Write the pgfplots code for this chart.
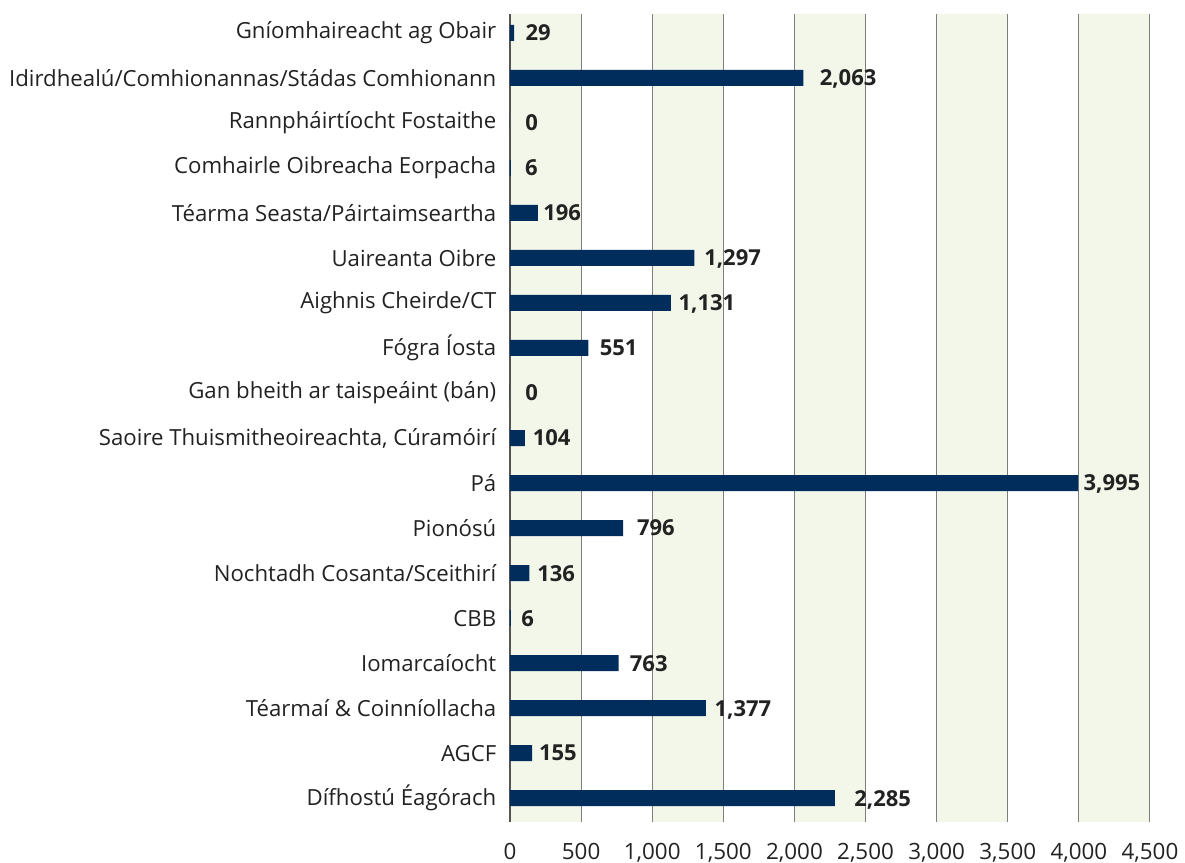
\documentclass[border=0pt]{standalone}
\usepackage{pgfplots}
\pgfplotsset{compat=1.18}
\usepackage{pgfplotstable}
\usepackage{fontspec}
\setmainfont{Open Sans}
\definecolor{barblue}{RGB}{0,45,92}
\definecolor{band}{RGB}{243,247,233}
\definecolor{gridgray}{RGB}{125,125,125}
\definecolor{txt}{RGB}{34,34,34}
\pgfplotstableread{
y x s
17 29 5.5
16 2063 8
15 0 7.5
14 6 7
13 196 2.5
12 1297 4.7
11 1131 3.7
10 551 5.5
9 0 7.5
8 104 3.8
7 3995 2.5
6 796 6.7
5 136 3.8
4 6 5
3 763 5.5
2 1377 4.2
1 155 3.3
0 2285 9.5
}\data
\begin{document}
\fontsize{11pt}{13pt}\selectfont
\begin{tikzpicture}
\begin{axis}[
  set layers,
  scale only axis,
  width=320pt, height=404pt,
  xmin=0, xmax=4500,
  ymin=-0.53, ymax=17.42,
  axis y line*=left,
  axis x line*=bottom,
  x axis line style={draw=none},
  y axis line style={draw={rgb,255:red,85;green,85;blue,85}, line width=0.6pt},
  xtick={0,500,...,4500},
  ytick={0,...,17},
  major tick length=0pt,
  xmajorgrids,
  major grid style={draw=gridgray, line width=0.5pt},
  /pgf/number format/assume math mode=true,
  /pgf/number format/1000 sep={,},
  xticklabel style={font=\fontsize{11.2pt}{13pt}\selectfont, text=txt, inner sep=0pt, yshift=-10.5pt},
  yticklabel style={font=\fontsize{11.1pt}{13pt}\selectfont, text=txt, xshift=-3pt},
  yticklabels={Dífhostú Éagórach, AGCF, Téarmaí \& Coinníollacha, Iomarcaíocht, CBB, Nochtadh Cosanta/Sceithirí, Pionósú, Pá, {Saoire Thuismitheoireachta, Cúramóirí}, Gan bheith ar taispeáint (bán), Fógra Íosta, Aighnis Cheirde/CT, Uaireanta Oibre, Téarma Seasta/Páirtaimseartha, Comhairle Oibreacha Eorpacha, Rannpháirtíocht Fostaithe, Idirdhealú/Comhionannas/Stádas Comhionann, Gníomhaireacht ag Obair},
]
\addplot[fill=band, draw=none, on layer=axis background] coordinates {(0,-0.53) (500,-0.53) (500,17.42) (0,17.42)} --cycle;
\addplot[fill=band, draw=none, on layer=axis background] coordinates {(1000,-0.53) (1500,-0.53) (1500,17.42) (1000,17.42)} --cycle;
\addplot[fill=band, draw=none, on layer=axis background] coordinates {(2000,-0.53) (2500,-0.53) (2500,17.42) (2000,17.42)} --cycle;
\addplot[fill=band, draw=none, on layer=axis background] coordinates {(3000,-0.53) (3500,-0.53) (3500,17.42) (3000,17.42)} --cycle;
\addplot[fill=band, draw=none, on layer=axis background] coordinates {(4000,-0.53) (4500,-0.53) (4500,17.42) (4000,17.42)} --cycle;
\addplot[xbar, bar width=8pt, fill=barblue, draw=none,
  nodes near coords, point meta=x,
  visualization depends on={\thisrow{s} \as \sh},
  every node near coord/.append style={font=\bfseries\fontsize{11pt}{13pt}\selectfont, text=txt, anchor=west, inner sep=0pt, text depth=0pt, xshift=\sh pt}]
  table[x=x, y=y] {\data};
\end{axis}
\path (-255pt,-19.5pt) rectangle (337.5pt,411pt);
\end{tikzpicture}
\end{document}
